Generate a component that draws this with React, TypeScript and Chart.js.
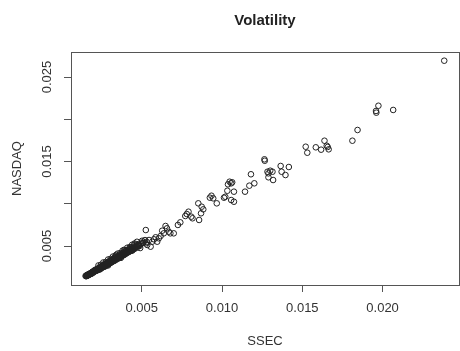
import React, { useEffect, useRef } from 'react';
import { Chart, registerables } from 'chart.js';

Chart.register(...registerables);

// SSEC volatility (x) — dense low-volatility band
const ssecBand: number[] = [
  0.00150, 0.00153, 0.00155, 0.00158, 0.00160, 0.00162, 0.00164, 0.00166, 0.00168, 0.00170,
  0.00172, 0.00174, 0.00176, 0.00178, 0.00180, 0.00182, 0.00184, 0.00186, 0.00188, 0.00190,
  0.00192, 0.00194, 0.00196, 0.00198, 0.00200, 0.00202, 0.00204, 0.00206, 0.00208, 0.00210,
  0.00212, 0.00214, 0.00216, 0.00218, 0.00220, 0.00222, 0.00224, 0.00226, 0.00228, 0.00230,
  0.00232, 0.00234, 0.00236, 0.00238, 0.00240, 0.00242, 0.00244, 0.00246, 0.00248, 0.00250,
  0.00252, 0.00254, 0.00256, 0.00258, 0.00260, 0.00262, 0.00264, 0.00266, 0.00268, 0.00270,
  0.00272, 0.00274, 0.00276, 0.00278, 0.00280, 0.00282, 0.00284, 0.00286, 0.00288, 0.00290,
  0.00292, 0.00294, 0.00296, 0.00298, 0.00300, 0.00302, 0.00304, 0.00306, 0.00308, 0.00310,
  0.00312, 0.00314, 0.00316, 0.00318, 0.00320, 0.00322, 0.00324, 0.00326, 0.00328, 0.00330,
  0.00333, 0.00336, 0.00339, 0.00342, 0.00345, 0.00348, 0.00351, 0.00354, 0.00357, 0.00360,
  0.00363, 0.00366, 0.00369, 0.00372, 0.00375, 0.00378, 0.00381, 0.00384, 0.00387, 0.00390,
  0.00393, 0.00396, 0.00399, 0.00402, 0.00406, 0.00410, 0.00414, 0.00418, 0.00422, 0.00426,
  0.00430, 0.00434, 0.00438, 0.00442, 0.00446, 0.00450, 0.00455, 0.00460, 0.00465, 0.00470,
  0.00475, 0.00480, 0.00486, 0.00492, 0.00498,
  0.00157, 0.00169, 0.00181, 0.00193, 0.00205, 0.00217, 0.00229, 0.00241, 0.00253, 0.00265,
  0.00277, 0.00289, 0.00301, 0.00313, 0.00325, 0.00337, 0.00349, 0.00361, 0.00373, 0.00385,
  0.00397, 0.00409, 0.00421, 0.00433, 0.00445, 0.00457, 0.00469, 0.00483,
  0.00340, 0.00390, 0.00430, 0.00455, 0.00290, 0.00370, 0.00440,
  0.00230, 0.00260, 0.00290, 0.00320, 0.00350, 0.00380, 0.00410, 0.00440, 0.00470,
  0.00240, 0.00270, 0.00300, 0.00330, 0.00360, 0.00390, 0.00420, 0.00450, 0.00480,
  0.00245, 0.00275, 0.00305, 0.00335, 0.00365, 0.00395, 0.00425, 0.00455,
  0.00502, 0.00510, 0.00520, 0.00530,
];

// NASDAQ volatility (y) — dense low-volatility band
const nasdaqBand: number[] = [
  0.00146, 0.00142, 0.00152, 0.00150, 0.00158, 0.00149, 0.00155, 0.00163, 0.00157, 0.00166,
  0.00160, 0.00172, 0.00165, 0.00170, 0.00178, 0.00169, 0.00176, 0.00184, 0.00174, 0.00190,
  0.00181, 0.00188, 0.00197, 0.00186, 0.00202, 0.00195, 0.00210, 0.00199, 0.00206, 0.00217,
  0.00203, 0.00212, 0.00222, 0.00208, 0.00218, 0.00228, 0.00214, 0.00224, 0.00235, 0.00220,
  0.00231, 0.00242, 0.00225, 0.00236, 0.00250, 0.00230, 0.00244, 0.00256, 0.00238, 0.00252,
  0.00264, 0.00245, 0.00258, 0.00272, 0.00250, 0.00266, 0.00278, 0.00258, 0.00270, 0.00286,
  0.00262, 0.00278, 0.00292, 0.00270, 0.00284, 0.00298, 0.00276, 0.00290, 0.00306, 0.00282,
  0.00298, 0.00312, 0.00288, 0.00304, 0.00320, 0.00298, 0.00314, 0.00328, 0.00304, 0.00322,
  0.00336, 0.00310, 0.00330, 0.00344, 0.00318, 0.00336, 0.00352, 0.00324, 0.00342, 0.00358,
  0.00330, 0.00350, 0.00366, 0.00340, 0.00358, 0.00376, 0.00350, 0.00368, 0.00386, 0.00360,
  0.00380, 0.00396, 0.00370, 0.00390, 0.00408, 0.00382, 0.00400, 0.00418, 0.00392, 0.00412,
  0.00430, 0.00402, 0.00422, 0.00440, 0.00414, 0.00434, 0.00454, 0.00428, 0.00448, 0.00468,
  0.00440, 0.00462, 0.00480, 0.00452, 0.00474, 0.00494, 0.00466, 0.00488, 0.00508, 0.00482,
  0.00502, 0.00524, 0.00500, 0.00520, 0.00540,
  0.00145, 0.00162, 0.00174, 0.00193, 0.00204, 0.00214, 0.00228, 0.00240, 0.00255, 0.00270,
  0.00280, 0.00296, 0.00310, 0.00324, 0.00334, 0.00342, 0.00362, 0.00374, 0.00384, 0.00402,
  0.00414, 0.00424, 0.00438, 0.00450, 0.00462, 0.00478, 0.00496, 0.00512,
  0.00395, 0.00455, 0.00485, 0.00530, 0.00270, 0.00360, 0.00445,
  0.00270, 0.00305, 0.00340, 0.00375, 0.00410, 0.00445, 0.00480, 0.00515, 0.00550,
  0.00224, 0.00258, 0.00295, 0.00329, 0.00364, 0.00399, 0.00435, 0.00470, 0.00505,
  0.00278, 0.00310, 0.00348, 0.00380, 0.00416, 0.00450, 0.00486, 0.00520,
  0.00562, 0.00538, 0.00570, 0.00550,
];

// SSEC volatility (x) — sparser higher-volatility points
const ssecSpread: number[] = [
  0.02384, 0.01974, 0.01959, 0.01961, 0.02066, 0.01844, 0.01812, 0.01638, 0.01652, 0.01664,
  0.01658, 0.01584, 0.01617, 0.01521, 0.01531, 0.01264, 0.01266, 0.01365, 0.01416, 0.01283,
  0.01300, 0.01314, 0.01289, 0.01371, 0.01395, 0.01318, 0.01289, 0.01180, 0.01201, 0.01170,
  0.01143, 0.01047, 0.01057, 0.01037, 0.01063, 0.01033, 0.01074, 0.01020, 0.01057, 0.01074,
  0.00934, 0.00924, 0.00945, 0.00967, 0.01012, 0.00852, 0.00873, 0.00883, 0.00869, 0.00791,
  0.00780, 0.00808, 0.00816, 0.00857, 0.00740, 0.00771, 0.00725, 0.00699, 0.00648, 0.00657,
  0.00668, 0.00678, 0.00637, 0.00617, 0.00525, 0.00606, 0.00596, 0.00565, 0.00545, 0.00525,
  0.00555, 0.00576, 0.00586, 0.00534, 0.00627, 0.00508, 0.00490,
];

// NASDAQ volatility (y) — sparser higher-volatility points
const nasdaqSpread: number[] = [
  0.02693, 0.02160, 0.02098, 0.02078, 0.02110, 0.01873, 0.01746, 0.01746, 0.01687, 0.01644,
  0.01672, 0.01668, 0.01640, 0.01675, 0.01604, 0.01526, 0.01509, 0.01447, 0.01435, 0.01379,
  0.01391, 0.01379, 0.01360, 0.01379, 0.01340, 0.01281, 0.01313, 0.01349, 0.01242, 0.01214,
  0.01143, 0.01261, 0.01242, 0.01230, 0.01254, 0.01154, 0.01143, 0.01083, 0.01044, 0.01024,
  0.01095, 0.01072, 0.01064, 0.01005, 0.01072, 0.01005, 0.00965, 0.00934, 0.00887, 0.00906,
  0.00879, 0.00847, 0.00828, 0.00808, 0.00780, 0.00855, 0.00749, 0.00650, 0.00737, 0.00709,
  0.00669, 0.00650, 0.00650, 0.00618, 0.00689, 0.00591, 0.00551, 0.00551, 0.00571, 0.00532,
  0.00492, 0.00579, 0.00603, 0.00512, 0.00681, 0.00536, 0.00476,
];

const xTickValues: number[] = [0.005, 0.01, 0.015, 0.02];
const xTickLabels: string[] = ['0.005', '0.010', '0.015', '0.020'];
const yTickValues: number[] = [0.005, 0.01, 0.015, 0.02, 0.025];
const yTickLabels: string[] = ['0.005', '', '0.015', '', '0.025'];

const chartTitle = 'Volatility';
const xTitle = 'SSEC';
const yTitle = 'NASDAQ';

const FONT = '"Liberation Sans", Arial, sans-serif';
const INK = '#333333';

const boxPlugin = {
  id: 'plotBox',
  afterDraw(chart: any) {
    const { ctx, chartArea: a } = chart;
    ctx.save();
    ctx.strokeStyle = '#555555';
    ctx.lineWidth = 1;
    ctx.strokeRect(a.left + 0.5, a.top + 0.5, a.right - a.left, a.bottom - a.top);
    ctx.restore();
  },
};

export default function App() {
  const ref = useRef<HTMLCanvasElement | null>(null);

  useEffect(() => {
    if (!ref.current) return;
    const points = [
      ...ssecBand.map((x, i) => ({ x, y: nasdaqBand[i] })),
      ...ssecSpread.map((x, i) => ({ x, y: nasdaqSpread[i] })),
    ];
    const chart = new Chart(ref.current, {
      type: 'scatter',
      data: {
        datasets: [
          {
            data: points,
            pointStyle: 'circle',
            pointRadius: 2.8,
            pointBorderWidth: 1,
            borderColor: '#222222',
            backgroundColor: 'rgba(0,0,0,0)',
          },
        ],
      },
      options: {
        animation: false,
        responsive: false,
        devicePixelRatio: 1,
        layout: { padding: 0 },
        plugins: {
          legend: { display: false },
          tooltip: { enabled: false },
          title: {
            display: true,
            text: chartTitle,
            fullSize: false,
            color: '#222222',
            font: { family: FONT, size: 15, weight: 'bold' },
            padding: { top: 12, bottom: 22 },
          },
        },
        scales: {
          x: {
            type: 'linear',
            min: 0.00059,
            max: 0.02476,
            afterFit: (s: any) => {
              s.height = 66;
            },
            afterBuildTicks: (s: any) => {
              s.ticks = xTickValues.map((v) => ({ value: v }));
            },
            border: { display: false },
            grid: {
              drawOnChartArea: false,
              drawTicks: true,
              tickLength: 7,
              color: '#555555',
            },
            ticks: {
              color: INK,
              font: { family: FONT, size: 13 },
              padding: 9,
              maxRotation: 0,
              autoSkip: false,
              callback: (v: any) => {
                const i = xTickValues.findIndex((t) => Math.abs(t - Number(v)) < 1e-9);
                return i >= 0 ? xTickLabels[i] : '';
              },
            },
            title: {
              display: true,
              text: xTitle,
              color: INK,
              font: { family: FONT, size: 13 },
              padding: { top: 0, bottom: 2 },
            },
          },
          y: {
            type: 'linear',
            min: 0.000385,
            max: 0.02796,
            afterFit: (s: any) => {
              s.width = 71;
            },
            afterBuildTicks: (s: any) => {
              s.ticks = yTickValues.map((v) => ({ value: v }));
            },
            border: { display: false },
            grid: {
              drawOnChartArea: false,
              drawTicks: true,
              tickLength: 7,
              color: '#555555',
            },
            ticks: {
              color: INK,
              font: { family: FONT, size: 13 },
              padding: 0,
              minRotation: 90,
              maxRotation: 90,
              crossAlign: 'center',
              autoSkip: false,
              callback: (v: any) => {
                const i = yTickValues.findIndex((t) => Math.abs(t - Number(v)) < 1e-9);
                return i >= 0 ? yTickLabels[i] : '';
              },
            },
            title: {
              display: true,
              text: yTitle,
              color: INK,
              font: { family: FONT, size: 13 },
              padding: { top: 10, bottom: 0 },
            },
          },
        },
      },
      plugins: [boxPlugin],
    } as any);
    return () => chart.destroy();
  }, []);

  return (
    <div
      style={{
        position: 'absolute',
        left: 0,
        top: 0,
        width: 460,
        height: 351,
        overflow: 'hidden',
        background: '#ffffff',
      }}
    >
      <canvas ref={ref} width={464} height={351} style={{ display: 'block' }} />
    </div>
  );
}
